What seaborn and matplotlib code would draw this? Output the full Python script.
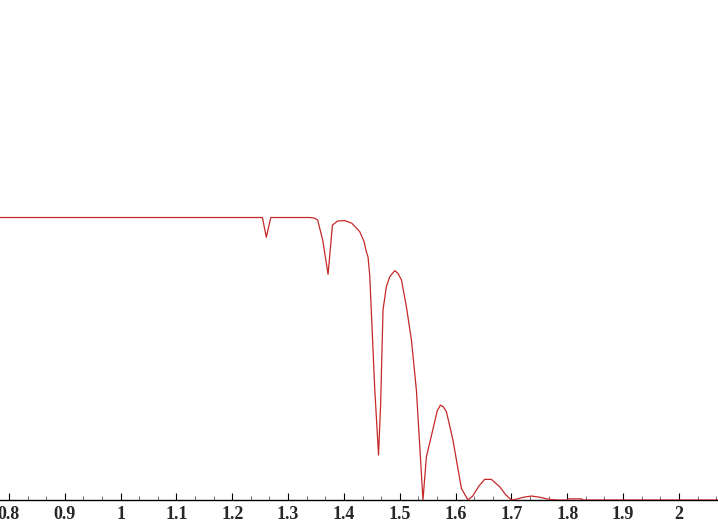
import numpy as np
import pandas as pd
import matplotlib.pyplot as plt
import seaborn as sns
from matplotlib.ticker import MultipleLocator

# curve (x, value)
x_vals = [0.784, 1.254, 1.261, 1.269, 1.339, 1.347, 1.353, 1.362, 1.3716, 1.3794, 1.389,
          1.4014, 1.414, 1.4283, 1.436, 1.440, 1.4432, 1.4462, 1.4553, 1.4620, 1.4658, 1.4700,
          1.476, 1.4820, 1.4910, 1.497, 1.5030, 1.5119, 1.5209, 1.5298, 1.5416, 1.5477, 1.5626,
          1.567, 1.5728, 1.578, 1.5835, 1.5953,
          1.6104, 1.6222, 1.6306, 1.642, 1.6521, 1.6641, 1.679, 1.690, 1.700, 1.7089, 1.722,
          1.7357, 1.750, 1.7685, 1.7837, 1.800, 1.802, 1.826, 1.828, 2.07]
y_vals = [1.0, 1.0, 0.930, 1.0, 1.0, 0.998, 0.991, 0.92, 0.799, 0.973, 0.988,
          0.989, 0.98, 0.950, 0.915, 0.880, 0.860, 0.796, 0.389, 0.159, 0.343, 0.673,
          0.755, 0.790, 0.812, 0.802, 0.779, 0.684, 0.566, 0.389, 0.0, 0.153, 0.277,
          0.315, 0.336, 0.330, 0.313, 0.212,
          0.041, 0.0, 0.014, 0.050, 0.073, 0.073, 0.047, 0.018, 0.0, 0.003, 0.010,
          0.014, 0.010, 0.002, 0.0, 0.0, 0.004, 0.004, 0.0, 0.0]

tick_pos = [0.8, 0.9, 1.0, 1.1, 1.2, 1.3, 1.4, 1.5, 1.6, 1.7, 1.8, 1.9, 2.0]
tick_labels = ["0.8", "0.9", "1", "1.1", "1.2", "1.3", "1.4", "1.5", "1.6", "1.7", "1.8", "1.9", "2"]

df = pd.DataFrame({"x": x_vals, "y": y_vals})

sns.set_style("white")
plt.rcParams['font.family'] = ['Liberation Serif', 'DejaVu Serif']

fig = plt.figure(figsize=(7.18, 5.25), dpi=100)
ax = fig.add_axes([0, 25 / 525, 1, 500 / 525])

sns.lineplot(data=df, x="x", y="y", color="#c62828", linewidth=0.9, ax=ax, zorder=3)

ax.set_xlim(0.784, 2.070)
ax.set_ylim(0, 1.77)

# only the bottom axis is shown, ticks point up
for side in ["top", "left", "right"]:
    ax.spines[side].set_visible(False)
ax.spines["bottom"].set_color("black")
ax.spines["bottom"].set_linewidth(1.0)
ax.spines["bottom"].set_zorder(2)

ax.set_xticks(tick_pos)
ax.set_xticklabels(tick_labels, fontsize=13, fontweight="bold")
ax.xaxis.set_minor_locator(MultipleLocator(0.1 / 3))
ax.tick_params(axis="x", which="major", direction="in", length=5, width=0.8, color="black", pad=4, bottom=True)
ax.tick_params(axis="x", which="minor", direction="in", length=3, width=0.6, color="#555555", bottom=True)
ax.set_yticks([])
ax.set_xlabel("")
ax.set_ylabel("")
ax.patch.set_alpha(0)

fig.savefig("out.png", dpi=100)
